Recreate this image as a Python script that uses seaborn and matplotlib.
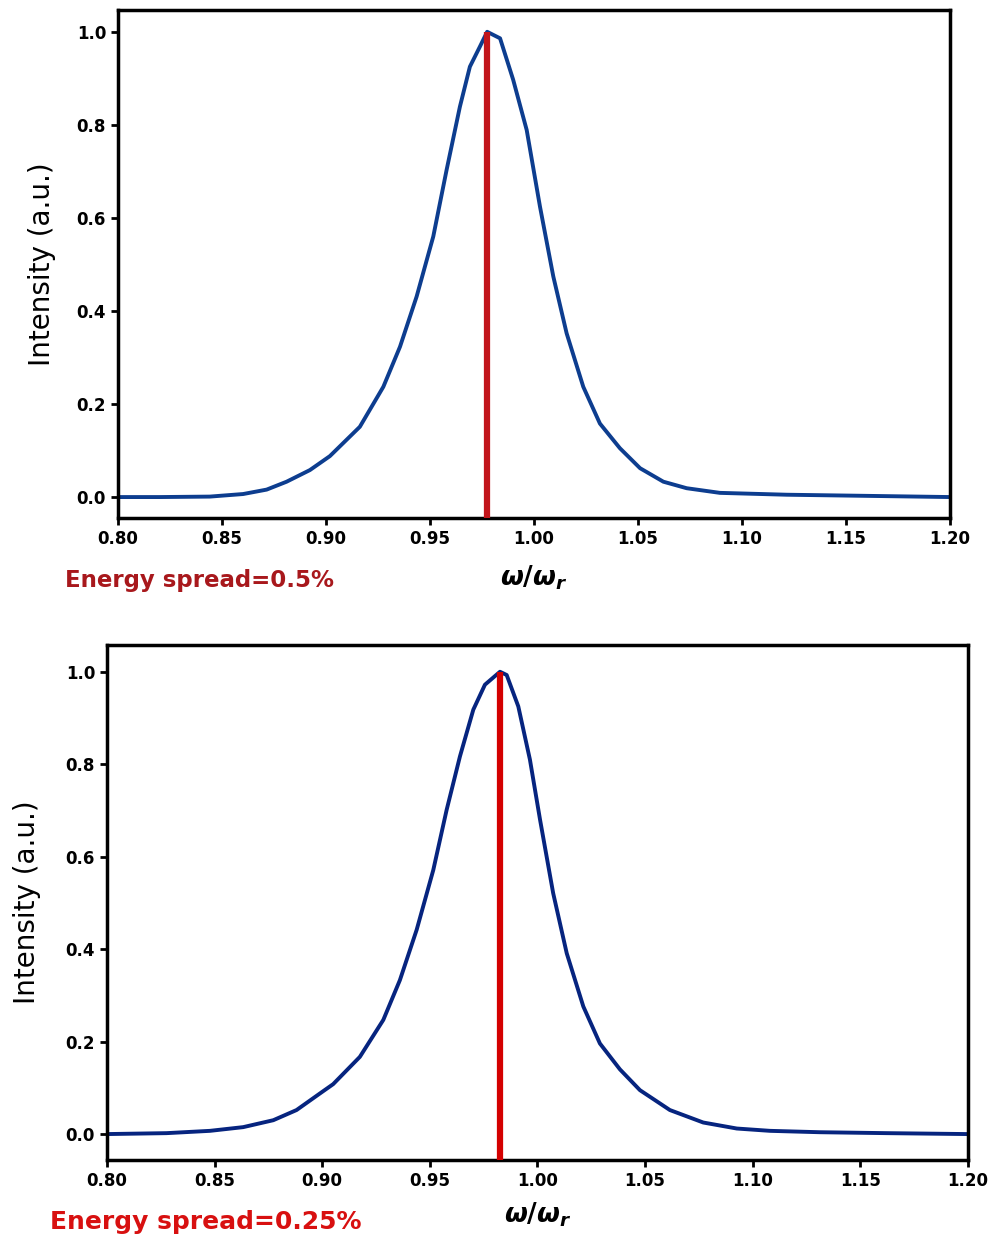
import numpy as np
import pandas as pd
import matplotlib
matplotlib.use("Agg")
import matplotlib.pyplot as plt
import seaborn as sns

# spectrum, energy spread 0.5 %
omega_a = [0.80, 0.82, 0.8442, 0.8602, 0.8715, 0.8811, 0.8923, 0.9019, 0.9163,
           0.9276, 0.9356, 0.9436, 0.9516, 0.958, 0.9644, 0.9692, 0.974, 0.9775,
           0.9837, 0.990, 0.9965, 1.0029, 1.0093, 1.0157, 1.0237, 1.0317, 1.0413,
           1.051, 1.0622, 1.0734, 1.0894, 1.1215, 1.1534, 1.20]
inten_a = [0.0, 0.0, 0.001, 0.0065, 0.016, 0.033, 0.058, 0.088, 0.151,
           0.237, 0.323, 0.431, 0.560, 0.703, 0.839, 0.925, 0.968, 1.0,
           0.986, 0.897, 0.789, 0.624, 0.474, 0.352, 0.237, 0.158, 0.105,
           0.062, 0.033, 0.019, 0.009, 0.005, 0.003, 0.0]
peak_a = 0.9775

# spectrum, energy spread 0.25 %
omega_b = [0.80, 0.8277, 0.8479, 0.8633, 0.8773, 0.8881, 0.8990, 0.9051, 0.9175,
           0.9284, 0.9361, 0.9439, 0.9516, 0.9578, 0.9640, 0.9702, 0.9756, 0.9826,
           0.9857, 0.9911, 0.9965, 1.0012, 1.0073, 1.0136, 1.0213, 1.0290, 1.0383,
           1.0476, 1.0615, 1.0770, 1.0926, 1.108, 1.1312, 1.1622, 1.20]
inten_b = [0.0, 0.002, 0.007, 0.015, 0.030, 0.052, 0.088, 0.108, 0.167,
           0.247, 0.333, 0.442, 0.571, 0.701, 0.817, 0.918, 0.972, 1.0,
           0.993, 0.925, 0.81, 0.68, 0.521, 0.391, 0.276, 0.196, 0.14,
           0.095, 0.052, 0.025, 0.012, 0.007, 0.004, 0.002, 0.0]
peak_b = 0.9826

xticks = [0.80, 0.85, 0.90, 0.95, 1.00, 1.05, 1.10, 1.15, 1.20]
yticks = [0.0, 0.2, 0.4, 0.6, 0.8, 1.0]

sns.set_style("ticks")
plt.rcParams['font.family'] = ['DejaVu Sans']
plt.rcParams['mathtext.fontset'] = 'custom'
plt.rcParams['mathtext.it'] = 'DejaVu Sans:italic:bold'
plt.rcParams['mathtext.rm'] = 'DejaVu Sans:bold'

fig = plt.figure(figsize=(9.99, 12.41), dpi=100)
ax1 = fig.add_axes([0.118, 0.5826, 0.833, 0.4094])
ax2 = fig.add_axes([0.107, 0.0653, 0.862, 0.415])

panels = [
    (ax1, omega_a, inten_a, peak_a, "#0d3d8f", "#c2151b", (-0.045, 1.047),
     "Energy spread=0.5%", "#a8181c", 16.5, 0.065, 0.527, 15, 11),
    (ax2, omega_b, inten_b, peak_b, "#06247f", "#d40000", (-0.056, 1.058),
     "Energy spread=0.25%", "#d81010", 18, 0.05, 0.010, 18, 8),
]

for ax, xs, ys, pk, lc, rc, ylim, note, ncol, nfs, nx, ny, ypad, xpad in panels:
    df = pd.DataFrame({"omega": xs, "I": ys})
    ax.vlines(pk, ylim[0], 1.0, color=rc, lw=4.5, zorder=3)
    sns.lineplot(data=df, x="omega", y="I", ax=ax, color=lc, lw=2.8, zorder=2,
                 solid_joinstyle="round", solid_capstyle="round")
    ax.set_xlim(0.80, 1.20)
    ax.set_ylim(*ylim)
    ax.set_xticks(xticks)
    ax.set_xticklabels([f"{t:.2f}" for t in xticks])
    ax.set_yticks(yticks)
    ax.set_yticklabels([f"{t:.1f}" for t in yticks])
    ax.tick_params(axis="both", labelsize=12, width=2, length=5, direction="out",
                   colors="black")
    for lab in ax.get_xticklabels() + ax.get_yticklabels():
        lab.set_fontweight("bold")
    for sp in ax.spines.values():
        sp.set_linewidth(2.5)
        sp.set_color("black")
    ax.set_xlabel(r"$\omega/\omega_r$", fontsize=19, labelpad=xpad, color="black")
    ax.set_ylabel("Intensity (a.u.)", fontsize=20, labelpad=ypad, color="black")
    fig.text(nx, ny, note, color=ncol, fontsize=nfs, fontweight="bold")

fig.savefig("out.png", dpi=100)
